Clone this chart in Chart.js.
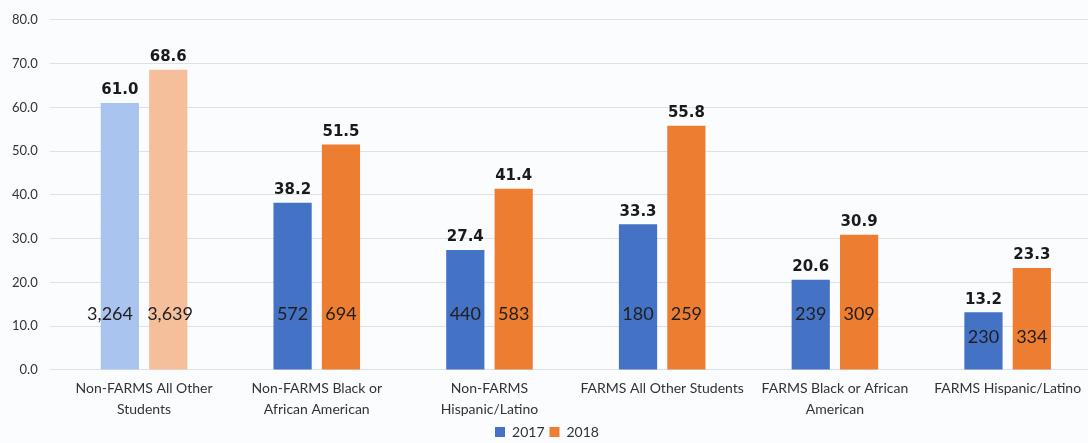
<!DOCTYPE html>
<html>
<head>
<meta charset="utf-8">
<script src="https://cdn.jsdelivr.net/npm/chart.js@4/dist/chart.umd.min.js"></script>
<style>
  html, body { margin: 0; padding: 0; background: #fbfcfd; overflow: hidden; }
  #wrap { width: 1094px; height: 449px; }
</style>
</head>
<body>
<div id="wrap"><canvas id="rateChart" width="1094" height="449"></canvas></div>
<script>
const groups = [
  ['Non-FARMS All Other', 'Students'],
  ['Non-FARMS Black or', 'African American'],
  ['Non-FARMS', 'Hispanic/Latino'],
  'FARMS All Other Students',
  ['FARMS Black or African', 'American'],
  'FARMS Hispanic/Latino'
];
const rate2017 = [61.0, 38.2, 27.4, 33.3, 20.6, 13.2];
const rate2018 = [68.6, 51.5, 41.4, 55.8, 30.9, 23.3];
const count2017 = [3264, 572, 440, 180, 239, 230];
const count2018 = [3639, 694, 583, 259, 309, 334];

const blue = '#4472c4', orange = '#ed7d31';

// first group is drawn faded
function shade(dark, light) {
  return function (c) { return c.dataIndex === 0 ? light : dark; };
}

// rates on top of the bars, student counts near the base
const barLabels = {
  id: 'barLabels',
  afterDatasetsDraw(chart) {
    const ctx = chart.ctx;
    const y = chart.scales.y;
    const counts = [count2017, count2018];
    ctx.save();
    chart.data.datasets.forEach(function (ds, i) {
      chart.getDatasetMeta(i).data.forEach(function (bar, j) {
        ctx.textAlign = 'center';
        ctx.fillStyle = '#1a1a1a';
        ctx.font = 'bold 15px "DejaVu Sans"';
        ctx.textBaseline = 'bottom';
        ctx.fillText(ds.data[j].toFixed(1), bar.x, bar.y - 5);

        const txt = counts[i][j].toLocaleString('en-US');
        // keep the count inside the shorter bar of the pair
        const level = Math.min(12.8, Math.min(rate2017[j], rate2018[j]) - 5.8);
        ctx.fillStyle = '#1e1e1e';
        ctx.font = '18px Lato';
        ctx.textBaseline = 'middle';
        let x = bar.x;
        // wide counts are pushed apart so the pair stays readable
        if (ctx.measureText(txt).width > bar.width) {
          if (i === 0) { ctx.textAlign = 'right'; x = bar.x + bar.width / 2 - 6; }
          else { ctx.textAlign = 'left'; x = bar.x - bar.width / 2 - 2; }
        }
        ctx.fillText(txt, x, y.getPixelForValue(level));
      });
    });
    ctx.restore();
  }
};

new Chart(document.getElementById('rateChart'), {
  type: 'bar',
  data: {
    labels: groups,
    datasets: [
      { label: '2017', data: rate2017, backgroundColor: shade(blue, '#a9c4ee') },
      { label: '2018', data: rate2018, backgroundColor: shade(orange, '#f6bf9b') }
    ]
  },
  options: {
    responsive: false,
    animation: false,
    layout: { padding: { top: 17, right: 0, left: 0, bottom: 0 } },
    datasets: {
      bar: { categoryPercentage: 0.56, barPercentage: 0.79 }
    },
    scales: {
      x: {
        grid: { display: false },
        border: { display: false },
        ticks: {
          color: '#333',
          font: { family: 'Lato', size: 14, lineHeight: 1.43 },
          maxRotation: 0,
          autoSkip: false,
          padding: 1
        }
      },
      y: {
        min: 0,
        max: 80,
        border: { display: false },
        grid: { color: '#dde1e8', lineWidth: 1 },
        ticks: {
          stepSize: 10,
          color: '#333',
          font: { family: 'Lato', size: 13 },
          padding: 12,
          callback: function (v) { return v.toFixed(1); }
        }
      }
    },
    plugins: {
      tooltip: { enabled: false },
      legend: {
        position: 'bottom',
        labels: {
          boxWidth: 10,
          boxHeight: 10,
          color: '#333',
          font: { family: 'Lato', size: 14 },
          padding: 5,
          generateLabels: function (chart) {
            return Chart.defaults.plugins.legend.labels.generateLabels(chart).map(function (item, i) {
              item.fillStyle = i === 0 ? blue : orange;
              item.strokeStyle = item.fillStyle;
              item.lineWidth = 0;
              return item;
            });
          }
        }
      }
    }
  },
  plugins: [barLabels]
});
</script>
</body>
</html>
